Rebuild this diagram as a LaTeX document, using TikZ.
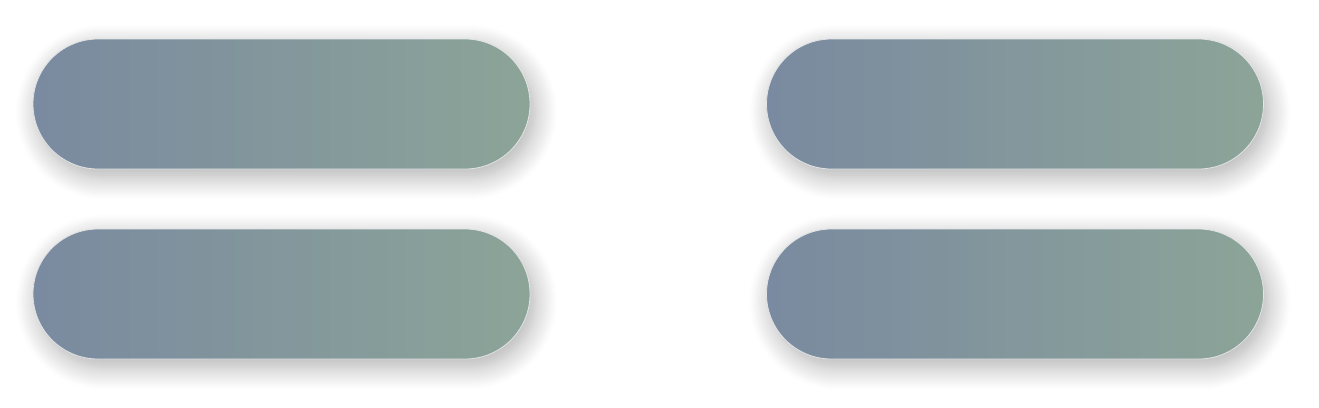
\documentclass[tikz,border=0pt]{standalone}
\usetikzlibrary{shapes.misc,shadows.blur}

\definecolor{pillblue}{HTML}{7A8AA0}
\definecolor{pillgreen}{HTML}{8CA498}
\definecolor{pillrim}{HTML}{E2E4E6}

\tikzset{
  pill/.style={rounded rectangle, minimum width=497pt, minimum height=130pt,
    left color=pillblue, right color=pillgreen, draw=pillrim, line width=0.8pt,
    inner sep=0pt,
    blur shadow={shadow xshift=5pt, shadow yshift=-8pt, shadow blur radius=22pt,
      shadow blur steps=12, shadow opacity=32}}
}

\begin{document}
\begin{tikzpicture}[x=1pt,y=1pt,yscale=-1,xscale=1]
\useasboundingbox (0,0) rectangle (1319,407);

% left column
\node [pill] (pillTL) at (281.5,104) {};
\node [pill] (pillBL) at (281.5,294) {};
% right column
\node [pill] (pillTR) at (1015,104) {};
\node [pill] (pillBR) at (1015,294) {};

\end{tikzpicture}
\end{document}
